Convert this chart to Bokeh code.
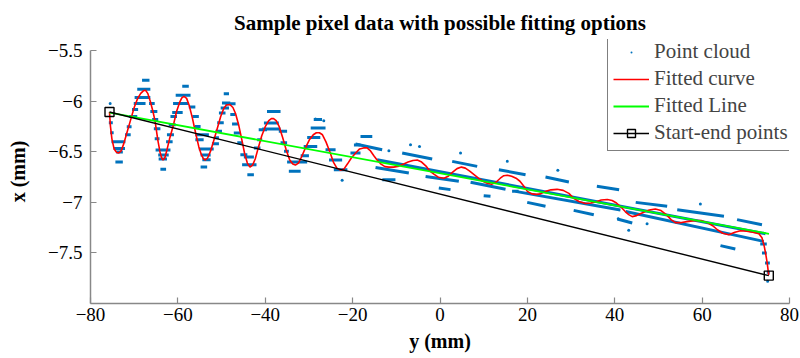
from bokeh.plotting import figure
from bokeh.models import (Range1d, FixedTicker, CustomJSTickFormatter,
                          Legend, LegendItem)
from bokeh.embed import file_html
from bokeh.resources import INLINE

# ---------------- data (mm) ----------------
x_ticks = [-80, -60, -40, -20, 0, 20, 40, 60, 80]
y_ticks = [-7.5, -7.0, -6.5, -6.0, -5.5]

# fitted curve
curve_x = [-75.65, -75.45, -75.1, -74.6, -74.0, -73.5, -73.0, -72.4, -71.8, -70.8,
           -70.0, -69.2, -68.5, -67.9, -67.4, -66.9, -66.3, -65.7, -65.2, -64.6,
           -64.1, -63.7, -63.4, -63.0, -62.5, -61.9, -61.0, -60.3, -59.6, -59.1,
           -58.6, -58.0, -57.4, -56.7, -55.9, -55.2, -54.6, -54.1, -53.7, -53.2,
           -52.5, -51.8, -51.0, -50.2, -49.5, -48.9, -48.1, -47.4, -46.8, -46.1,
           -45.4, -44.7, -44.1, -43.5, -42.9, -42.3, -41.6, -40.8, -40.0, -39.2,
           -38.6, -38.1, -37.5, -36.8, -36.0, -35.2, -34.4, -33.7, -33.1, -32.4,
           -31.7, -30.8, -29.9, -29.0, -28.3, -27.6, -26.9, -26.1, -25.2, -24.4,
           -23.6, -22.8, -22.0, -21.2, -20.3, -19.3, -18.4, -17.5, -16.7, -15.9,
           -15.1, -14.4, -13.5, -12.6, -11.7, -10.6, -9.4, -8.3, -7.3, -6.2,
           -5.2, -4.2, -3.2, -2.3, -1.4, -0.4, 0.9, 1.9, 2.9, 3.9,
           4.9, 5.8, 6.8, 7.8, 8.8, 9.8, 10.8, 11.8, 12.8, 13.8,
           14.6, 15.4, 16.4, 17.4, 18.3, 19.2, 20.0, 21.0, 22.0, 23.0,
           24.2, 25.4, 26.8, 28.2, 29.5, 30.6, 31.8, 33.3, 34.5, 35.6,
           36.9, 38.3, 39.4, 40.4, 41.3, 42.4, 43.2, 44.0, 45.0, 46.5,
           47.9, 49.3, 50.6, 51.8, 52.9, 53.9, 55.0, 56.5, 58.2, 59.9,
           61.2, 62.4, 63.5, 64.7, 66.1, 67.5, 68.8, 70.2, 71.6, 73.0,
           73.7, 74.2, 74.6, 74.9, 75.1, 75.26]
curve_y = [-6.105, -6.24, -6.37, -6.47, -6.505, -6.51, -6.49, -6.42, -6.33, -6.18,
           -6.06, -5.97, -5.92, -5.895, -5.89, -5.92, -6.00, -6.10, -6.20, -6.38,
           -6.50, -6.56, -6.58, -6.56, -6.48, -6.37, -6.23, -6.10, -6.01, -5.965,
           -5.95, -5.97, -6.04, -6.16, -6.32, -6.45, -6.53, -6.57, -6.58, -6.56,
           -6.49, -6.39, -6.27, -6.15, -6.07, -6.035, -6.03, -6.06, -6.12, -6.23,
           -6.37, -6.52, -6.61, -6.65, -6.63, -6.57, -6.46, -6.34, -6.25, -6.19,
           -6.17, -6.17, -6.19, -6.25, -6.36, -6.48, -6.58, -6.62, -6.63, -6.61,
           -6.55, -6.46, -6.38, -6.33, -6.31, -6.31, -6.33, -6.40, -6.50, -6.60,
           -6.66, -6.68, -6.67, -6.62, -6.56, -6.51, -6.47, -6.46, -6.46, -6.49,
           -6.54, -6.58, -6.62, -6.645, -6.65, -6.65, -6.64, -6.62, -6.60, -6.585,
           -6.58, -6.60, -6.64, -6.69, -6.72, -6.75, -6.76, -6.74, -6.70, -6.665,
           -6.65, -6.66, -6.69, -6.725, -6.76, -6.79, -6.81, -6.82, -6.80, -6.76,
           -6.735, -6.73, -6.74, -6.76, -6.79, -6.84, -6.89, -6.915, -6.92, -6.915,
           -6.89, -6.875, -6.87, -6.88, -6.91, -6.96, -6.99, -7.01, -7.005, -6.995,
           -6.975, -6.97, -6.98, -7.005, -7.04, -7.09, -7.12, -7.14, -7.13, -7.10,
           -7.075, -7.065, -7.08, -7.12, -7.17, -7.20, -7.20, -7.19, -7.18, -7.18,
           -7.20, -7.23, -7.27, -7.305, -7.32, -7.295, -7.28, -7.285, -7.295, -7.31,
           -7.35, -7.43, -7.52, -7.60, -7.67, -7.72]

# fitted straight line
line_x = [-75.65, 75.3]
line_y = [-6.11, -7.31]

# start / end points
se_x = [-75.65, 75.26]
se_y = [-6.105, -7.724]

# point cloud: horizontal pixel runs (x start, x end, y)
dash_x0 = [-75.8, -75.5, -75.2, -74.7, -74.1, -74.3, -72.1, -71.7, -71.2, -70.5,
           -70.1, -69.9, -69.3, -68.2, -66.6, -66.3, -65.9, -65.5, -65.3, -65.1,
           -64.5, -64.4, -64.0, -62.7, -62.5, -62.1, -61.7, -61.3, -61.1, -60.5,
           -59.0, -57.5, -56.7, -56.1, -56.0, -56.0, -55.2, -54.8, -54.4, -54.8,
           -52.2, -51.8, -51.4, -51.0, -50.6, -50.2, -49.9, -49.5, -49.1, -48.0,
           -47.6, -47.2, -46.4, -45.7, -44.9, -45.3, -44.1, -42.6, -41.85, -41.5,
           -40.7, -40.3, -39.6, -36.9, -36.5, -35.7, -35.0, -34.6, -31.9, -31.2,
           -30.4, -29.6, -28.9, -26.2, -25.4, -24.3, -20.5, -19.7, -18.2, -13.2,
           16.5, 73.3, 73.7, 74.4, 74.8]
dash_x1 = [-74.9, -74.7, -72.0, -72.1, -72.6, -72.6, -70.8, -70.6, -69.3, -69.1,
           -67.4, -66.3, -66.3, -66.5, -65.3, -64.7, -64.5, -64.0, -64.2, -61.7,
           -62.1, -62.5, -62.7, -61.2, -60.9, -60.5, -60.2, -58.9, -57.5, -57.1,
           -57.5, -56.0, -55.2, -54.8, -52.9, -54.1, -51.8, -52.5, -52.5, -53.3,
           -50.6, -50.6, -49.9, -49.5, -49.1, -48.3, -48.0, -48.3, -46.8, -46.8,
           -46.0, -45.7, -45.3, -44.1, -42.6, -42.0, -42.6, -41.1, -40.7, -39.6,
           -36.5, -36.9, -36.5, -35.0, -35.0, -34.6, -30.4, -31.9, -30.0, -28.1,
           -27.4, -26.2, -27.0, -23.9, -22.4, -21.2, -18.2, -18.2, -15.5, -10.2,
           18.0, 74.8, 74.8, 75.5, 75.5]
dash_y = [-6.21, -6.31, -6.40, -6.465, -6.50, -6.60, -6.33, -6.25, -6.15, -6.08,
          -6.02, -5.96, -5.88, -5.79, -6.02, -6.10, -6.18, -6.27, -6.37, -6.48,
          -6.53, -6.57, -6.67, -6.40, -6.33, -6.23, -6.15, -6.11, -6.02, -5.94,
          -5.85, -6.056, -6.148, -6.247, -6.33, -6.38, -6.47, -6.53, -6.577, -6.65,
          -6.42, -6.36, -6.296, -6.21, -6.115, -6.066, -6.016, -5.924, -6.023, -6.13,
          -6.224, -6.313, -6.41, -6.527, -6.55, -6.626, -6.725, -6.46, -6.38, -6.28,
          -6.273, -6.214, -6.10, -6.296, -6.41, -6.494, -6.60, -6.69, -6.537, -6.445,
          -6.356, -6.263, -6.18, -6.478, -6.58, -6.675, -6.51, -6.43, -6.346, -6.776,
          -6.89, -7.41, -7.50, -7.60, -7.69]

# point cloud: slanted bands of pixel runs (start x, start y, end x, end y)
band_x0 = [-19.34, -14.4, -8.66, -14.76, -3.3, -0.27, 2.79, 7.0, 17.3,
           13.47, 24.15, 35.9, 44.8, 54.3, 68.0, 64.2, 40.6, 30.6, 19.96,
           42.5, 10.0]
band_y0 = [-6.422, -6.577, -6.511, -6.653, -6.742, -6.857, -6.593, -6.80, -6.89,
           -6.676, -6.748, -6.84, -6.999, -7.071, -7.17, -7.427, -7.163, -7.078, -6.999,
           -7.09, -6.933]
band_x1 = [-13.24, 74.5, -1.79, -7.13, 4.31, 2.41, 8.51, 15.0, 41.3,
           19.58, 29.5, 41.0, 52.0, 65.0, 73.7, 67.6, 44.0, 35.2, 24.15,
           74.1, 11.56]
band_y1 = [-6.478, -7.309, -6.57, -6.708, -6.79, -6.873, -6.643, -6.87, -7.075,
           -6.725, -6.798, -6.875, -7.038, -7.137, -7.22, -7.46, -7.203, -7.121, -7.038,
           -7.385, -6.939]

# point cloud: isolated pixels
dot_x = [-75.5, -28.5, -26.6, -22.4, -6.75, -4.69, -11.7, 4.7, 15.4, 26.97,
         43.2, 59.6, 47.4, 40.8, 75.0]
dot_y = [-6.02, -6.175, -6.19, -6.78, -6.428, -6.445, -6.487, -6.51, -6.593, -6.682,
         -7.276, -7.015, -7.21, -7.16, -7.78]

BLUE = "#0072BD"
SERIF = "Liberation Serif"

p = figure(width=800, height=358, output_backend="svg", toolbar_location=None,
           x_range=Range1d(-80, 80), y_range=Range1d(-8.0, -5.387),
           min_border_left=90, min_border_right=11, min_border_top=39,
           min_border_bottom=55, background_fill_color="white",
           border_fill_color="white")
p.outline_line_color = None
p.xgrid.visible = False
p.ygrid.visible = False

p.title.text = "Sample pixel data with possible fitting options"
p.title.align = "center"
p.title.text_font = SERIF
p.title.text_font_style = "bold"
p.title.text_font_size = "21px"
p.title.text_color = "black"
p.title.standoff = 10

fmt = CustomJSTickFormatter(code="return (tick < 0 ? '\\u2212' : '') + Math.abs(tick);")
for ax, ticks, standoff, lab, lab_standoff in (
        (p.xaxis[0], x_ticks, 4, "y (mm)", 6),
        (p.yaxis[0], y_ticks, 8, "x (mm)", 16)):
    ax.ticker = FixedTicker(ticks=ticks)
    ax.formatter = fmt
    ax.axis_line_color = "#888888"
    ax.axis_line_width = 1.5
    ax.major_tick_line_color = "#888888"
    ax.major_tick_line_width = 1.2
    ax.major_tick_in = 6
    ax.major_tick_out = 0
    ax.minor_tick_line_color = None
    ax.major_label_text_font = SERIF
    ax.major_label_text_font_size = "19px"
    ax.major_label_text_color = "black"
    ax.major_label_standoff = standoff
    ax.axis_label = lab
    ax.axis_label_text_font = SERIF
    ax.axis_label_text_font_style = "bold"
    ax.axis_label_text_font_size = "20px"
    ax.axis_label_text_color = "black"
    ax.axis_label_standoff = lab_standoff
p.yaxis[0].bounds = (-8.0, -5.5)

# point cloud
p.segment(x0=dash_x0, y0=dash_y, x1=dash_x1, y1=dash_y, line_color=BLUE,
          line_width=3, line_cap="butt")
p.segment(x0=band_x0, y0=band_y0, x1=band_x1, y1=band_y1, line_color=BLUE,
          line_width=3, line_cap="butt")
dots_r = p.scatter(dot_x, dot_y, marker="dot", size=12, line_color=BLUE)

curve_r = p.line(curve_x, curve_y, line_color="#FF0000", line_width=1.6)
fit_r = p.line(line_x, line_y, line_color="#00FF00", line_width=1.8)
se_line_r = p.line(se_x, se_y, line_color="black", line_width=1.4)
se_pts_r = p.scatter(se_x, se_y, marker="square", size=9, fill_color=None,
                     line_color="black", line_width=1.4)

legend = Legend(items=[
    LegendItem(label="Point cloud", renderers=[dots_r]),
    LegendItem(label="Fitted curve", renderers=[curve_r]),
    LegendItem(label="Fitted Line", renderers=[fit_r]),
    LegendItem(label="Start-end points", renderers=[se_line_r, se_pts_r]),
], location=(517, 152))
legend.border_line_color = "black"
legend.border_line_width = 1
legend.background_fill_color = "white"
legend.background_fill_alpha = 1.0
legend.label_text_font = SERIF
legend.label_text_font_size = "21px"
legend.glyph_width = 36
legend.glyph_height = 20
legend.label_height = 20
legend.label_standoff = 5
legend.spacing = 2
legend.padding = 5
legend.margin = 0
p.add_layout(legend)

with open("out.html", "w", encoding="utf-8") as f:
    f.write(file_html(p, INLINE))
